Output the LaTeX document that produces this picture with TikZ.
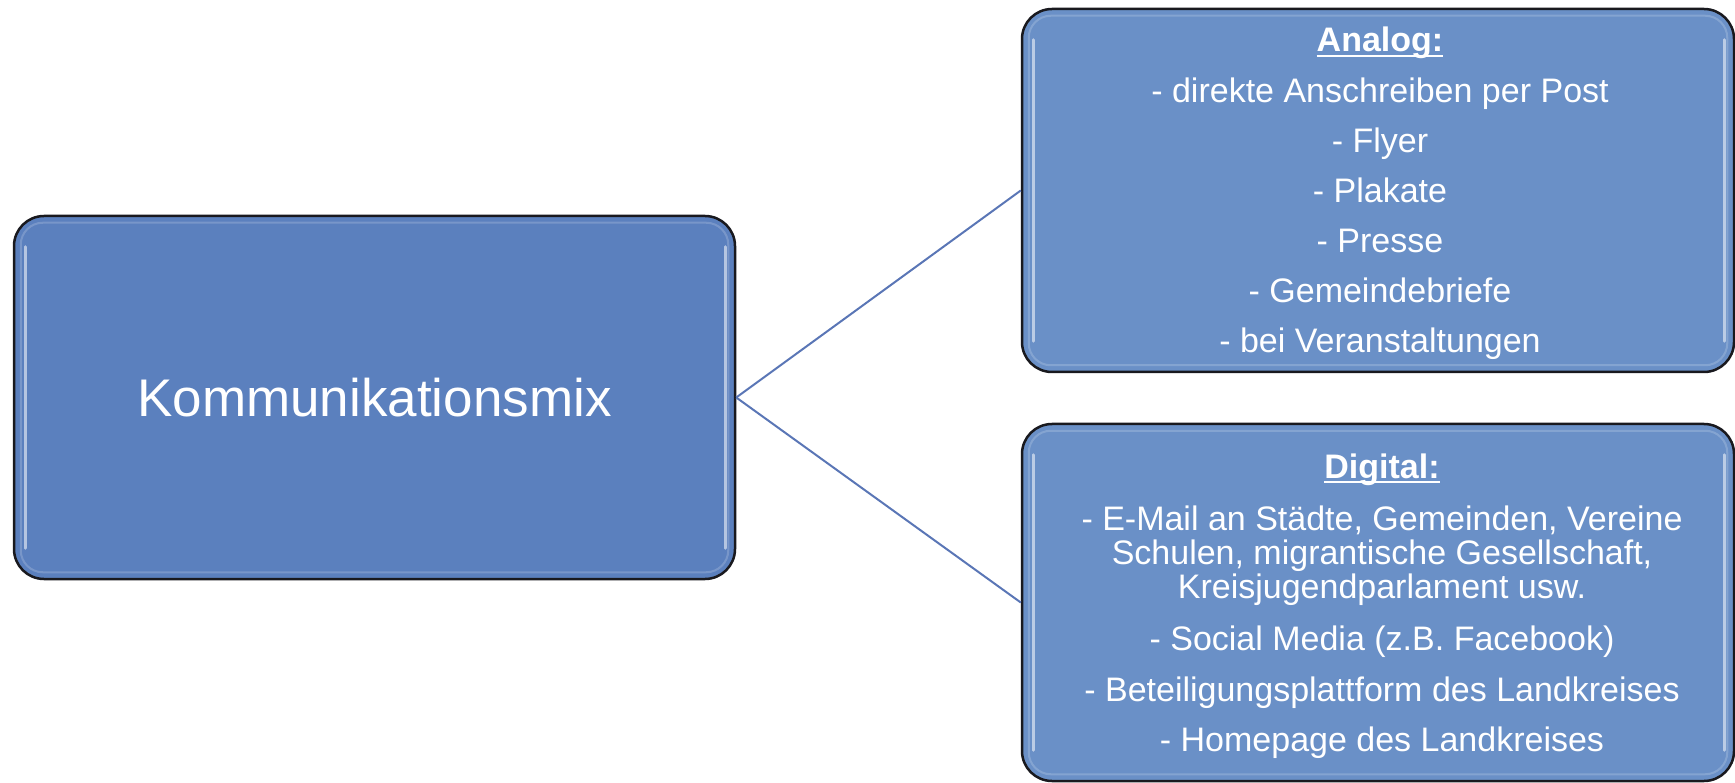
\documentclass[tikz,border=0pt]{standalone}
\usepackage{fontspec}
\setmainfont{Liberation Sans}
\definecolor{leftc}{RGB}{91,128,190}
\definecolor{rightc}{RGB}{106,144,199}
\definecolor{linec}{RGB}{90,118,182}
\definecolor{edgec}{RGB}{25,25,30}
\begin{document}
\begin{tikzpicture}[x=1pt,y=-1pt,
  box/.style={draw=edgec, line width=2.5pt, rounded corners=30pt, inner sep=0pt},
  hl/.style={draw=white, line width=3pt, opacity=.55, line cap=round},
  ring/.style={draw=white, line width=2pt, opacity=.18, rounded corners=22pt},
  conn/.style={draw=linec, line width=2pt},
  txt/.style={text=white, inner sep=0pt, anchor=base, font=\fontsize{34}{40}\selectfont},
  ttl/.style={text=white, inner sep=0pt, anchor=base, font=\fontsize{34}{40}\selectfont\bfseries},
  uline/.style={draw=white, line width=2.5pt}]
\useasboundingbox (0,0) rectangle (1735,783);

% boxes
\node[box, fill=leftc, minimum width=721pt, minimum height=363pt,
      text=white, font=\fontsize{53}{60}\selectfont] (k) at (374.5,397.5) {Kommunikationsmix};
\node[box, fill=rightc, minimum width=712pt, minimum height=363pt] (a) at (1378,190.5) {};
\node[box, fill=rightc, minimum width=712pt, minimum height=357pt] (d) at (1378,602.5) {};

% glossy highlights
\foreach \b in {k,a,d}{
  \draw[ring] ([xshift=8pt,yshift=-8pt]\b.north west) rectangle ([xshift=-8pt,yshift=8pt]\b.south east);
  \draw[hl] ([xshift=13pt,yshift=-32pt]\b.north west) -- ([xshift=13pt,yshift=32pt]\b.south west);
  \draw[hl] ([xshift=-11pt,yshift=-32pt]\b.north east) -- ([xshift=-11pt,yshift=32pt]\b.south east);
}

% connectors
\draw[conn] (k.east) -- (a.west);
\draw[conn] (k.east) -- (d.west);

% Analog texts
\node[ttl] (a0) at (1380,52) {Analog:};
\draw[uline] ([yshift=-4pt]a0.base west) -- ([yshift=-4pt]a0.base east);
\node[txt] (a1) at (1380,103) {- direkte Anschreiben per Post};
\node[txt] (a2) at (1380,153) {- Flyer};
\node[txt] (a3) at (1380,203) {- Plakate};
\node[txt] (a4) at (1380,253) {- Presse};
\node[txt] (a5) at (1380,303) {- Gemeindebriefe};
\node[txt] (a6) at (1380,353) {- bei Veranstaltungen};

% Digital texts
\node[ttl] (d0) at (1382,478) {Digital:};
\draw[uline] ([yshift=-4pt]d0.base west) -- ([yshift=-4pt]d0.base east);
\node[txt] (d1) at (1382,530) {- E-Mail an Städte, Gemeinden, Vereine};
\node[txt] (d2) at (1382,564) {Schulen, migrantische Gesellschaft,};
\node[txt] (d3) at (1382,598) {Kreisjugendparlament usw.};
\node[txt] (d4) at (1382,650) {- Social Media (z.B. Facebook)};
\node[txt] (d5) at (1382,701) {- Beteiligungsplattform des Landkreises};
\node[txt] (d6) at (1382,751) {- Homepage des Landkreises};
\end{tikzpicture}
\end{document}
